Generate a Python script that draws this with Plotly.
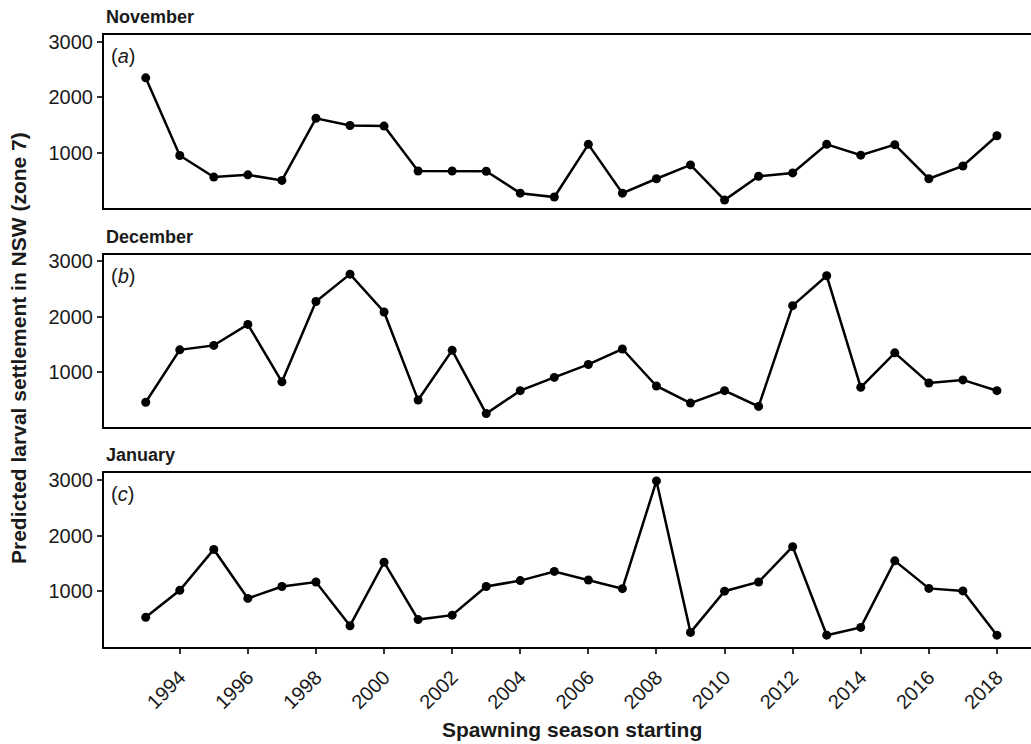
import plotly.graph_objects as go

# Spawning seasons (start year) and predicted settlement per spawning month
years = list(range(1993, 2019))

november = [2350, 950, 560, 600, 500, 1620, 1490, 1480, 670, 670, 665, 270,
            200, 1150, 270, 530, 780, 145, 575, 635, 1150, 955, 1145, 530,
            760, 1305]
december = [450, 1400, 1480, 1860, 820, 2275, 2770, 2085, 490, 1390, 245, 660,
            900, 1135, 1415, 745, 435, 660, 375, 2200, 2740, 720, 1345, 800,
            855, 660]
january = [535, 1020, 1755, 875, 1090, 1170, 385, 1525, 495, 575, 1090, 1195,
           1360, 1205, 1050, 2985, 265, 1005, 1170, 1805, 215, 355, 1550, 1055,
           1010, 215]

panel_titles = ["November", "December", "January"]
panel_letters = ["a", "b", "c"]
series = [november, december, january]

y_ticks = [1000, 2000, 3000]
x_ticks = list(range(1994, 2019, 2))

W, H = 1031, 744
M_L, M_R, M_T, M_B = 104, 0, 35, 97
plot_h = H - M_T - M_B
plot_w = W - M_L - M_R

# Panel pixel extents (top, bottom) measured from the top of the page
panel_px = [(35, 207.7), (254.7, 426.7), (473.3, 646.7)]


def dom(top, bottom):
    return [1 - (bottom - M_T) / plot_h, 1 - (top - M_T) / plot_h]


FONT = "Liberation Sans, Arial, sans-serif"
INK = "#1a1a1a"

fig = go.Figure()

x_range = [1991.775, 2019.0]
y_range = [8, 3122]

for i, vals in enumerate(series):
    n = "" if i == 0 else str(i + 1)
    fig.add_trace(go.Scatter(
        x=years, y=vals, mode="lines+markers",
        line=dict(color="black", width=2.5),
        marker=dict(color="black", size=9),
        xaxis="x" + n, yaxis="y" + n, showlegend=False,
    ))
    last = i == len(series) - 1
    fig.layout["xaxis" + n] = dict(
        domain=[0, 1], anchor="y" + n, range=x_range,
        showgrid=False, zeroline=False,
        showline=True, mirror=True, linecolor="black", linewidth=2.2,
        ticks="outside" if last else "", ticklen=5, tickwidth=1.5,
        tickcolor="#333", tickvals=x_ticks, showticklabels=last,
        tickangle=-45, ticklabelstandoff=4,
        tickfont=dict(family=FONT, size=20, color=INK),
        matches="x" if i else None,
    )
    fig.layout["yaxis" + n] = dict(
        domain=dom(*panel_px[i]), anchor="x" + n, range=y_range,
        showgrid=False, zeroline=False,
        showline=True, linecolor="black", linewidth=2.2,
        ticks="outside", ticklen=5, tickwidth=1.5, tickcolor="#333",
        tickvals=y_ticks, tickfont=dict(family=FONT, size=20, color=INK),
    )

annotations = []
for i, (top, bottom) in enumerate(panel_px):
    # strip title above each panel
    annotations.append(dict(
        text="<b>%s</b>" % panel_titles[i], xref="paper", yref="paper",
        x=0, y=1 - (top - 18 - M_T) / plot_h, xanchor="left", yanchor="middle",
        showarrow=False, font=dict(family=FONT, size=18, color=INK),
    ))
    # panel letter in the top-left corner
    annotations.append(dict(
        text="(<i>%s</i>)" % panel_letters[i], xref="paper", yref="paper",
        x=5 / plot_w, y=1 - (top + 21 - M_T) / plot_h,
        xanchor="left", yanchor="middle",
        showarrow=False, font=dict(family=FONT, size=20, color=INK),
    ))

annotations.append(dict(
    text="<b>Predicted larval settlement in NSW (zone 7)</b>",
    xref="paper", yref="paper", x=(18 - M_L) / plot_w,
    y=1 - (348 - M_T) / plot_h, textangle=-90,
    xanchor="center", yanchor="middle", showarrow=False,
    font=dict(family=FONT, size=21, color=INK),
))
annotations.append(dict(
    text="<b>Spawning season starting</b>",
    xref="paper", yref="paper", x=(572 - M_L) / plot_w,
    y=1 - (729 - M_T) / plot_h, xanchor="center", yanchor="middle",
    showarrow=False, font=dict(family=FONT, size=21, color=INK),
))

fig.update_layout(
    width=W, height=H,
    margin=dict(l=M_L, r=M_R, t=M_T, b=M_B),
    paper_bgcolor="white", plot_bgcolor="white",
    annotations=annotations,
)

fig.write_html("out.html")
